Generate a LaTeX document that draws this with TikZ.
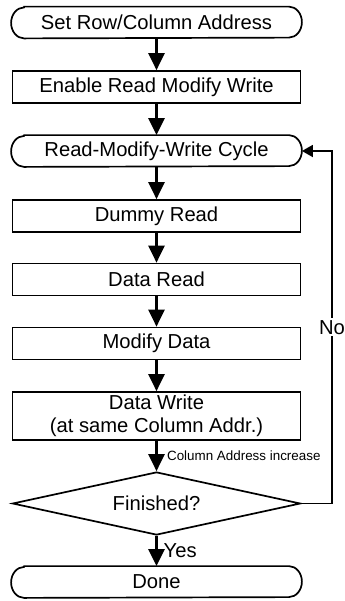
\documentclass[tikz,border=0pt]{standalone}
\usepackage{fontspec}
\setmainfont{Liberation Sans}
\usetikzlibrary{arrows.meta,shapes.geometric}
\newcommand\termoutline[1]{%
  \draw[line width=0.85pt] ([xshift=6.5pt]#1.north west) -- ([xshift=-6.5pt]#1.north east)
    arc[start angle=90,end angle=-90,x radius=6.5pt,y radius=7.75pt]
    -- ([xshift=6.5pt]#1.south west)
    arc[start angle=270,end angle=90,x radius=6.5pt,y radius=7.75pt] -- cycle;}
\begin{document}
\begin{tikzpicture}[x=0.5pt,y=-0.5pt,
  txt/.style={font=\fontsize{10.1}{11.5}\selectfont},
  box/.style={txt,draw,line width=0.85pt,minimum width=144pt,minimum height=16pt,inner sep=0pt,align=center},
  term/.style={txt,minimum width=145pt,minimum height=15.5pt,inner sep=0pt},
  flow/.style={line width=1.2pt,-{Triangle[width=8pt,length=8.5pt]}},
  loopline/.style={line width=0.85pt,-{Triangle[width=6pt,length=5.5pt]}}]
\useasboundingbox (0,0) rectangle (344,601);
\node[term] (t1) at (156.5,22.5) {Set Row/Column Address};
\termoutline{t1}
\node[box] (b2) at (156.5,87) {Enable Read Modify Write};
\node[term] (t3) at (156.5,151) {Read-Modify-Write Cycle};
\termoutline{t3}
\node[box] (b4) at (156.5,216) {Dummy Read};
\node[box] (b5) at (156.5,279.5) {Data Read};
\node[box] (b6) at (156.5,343.5) {Modify Data};
\node[box,minimum height=24pt] (b7) at (156.5,416) {Data Write\\(at same Column Addr.)};
\node[txt,draw,diamond,line width=0.85pt,minimum width=144pt,minimum height=31.5pt,inner sep=0pt,aspect=4.6] (d) at (156.5,503.5) {Finished?};
\node[term] (t9) at (156.5,582) {Done};
\termoutline{t9}
\coordinate (c1) at (332,503.5);
\coordinate (c2) at (332,151);
\draw[flow] (t1) -- (b2);
\draw[flow] (b2) -- (t3);
\draw[flow] (t3) -- (b4);
\draw[flow] (b4) -- (b5);
\draw[flow] (b5) -- (b6);
\draw[flow] (b6) -- (b7);
\draw[flow] (b7) -- node[anchor=west,inner sep=0pt,xshift=4.7pt,font=\fontsize{6.7}{8}\selectfont]{Column Address increase} (d);
\draw[flow] (d) -- node[txt,anchor=west,inner sep=0pt,xshift=3pt]{Yes} (t9);
\draw[loopline] (d.east) -- (c1) -- node[txt,fill=white,inner sep=1pt]{No} (c2) -- (t3.east);
\end{tikzpicture}
\end{document}
